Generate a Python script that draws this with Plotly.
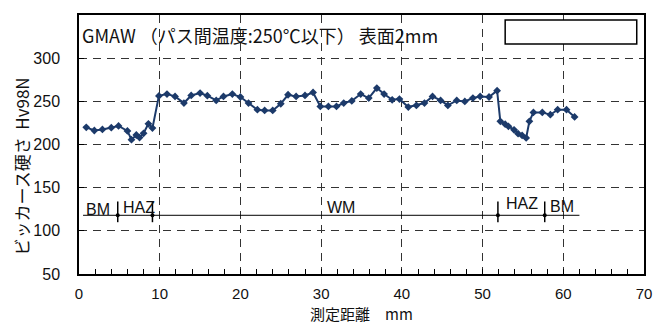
import plotly.graph_objects as go

# Measurement positions (mm) and Vickers hardness (Hv98N)
distance_mm = [0.9, 1.9, 2.9, 4.0, 4.9, 6.0, 6.5, 7.1, 7.5, 8.0, 8.6, 9.1,
               9.9, 10.9, 11.9, 13.0, 13.9, 15.0, 15.9, 17.0, 17.9, 19.0,
               20.0, 21.0, 22.1, 23.0, 24.0, 25.0, 25.9, 26.9, 28.0, 29.0,
               29.9, 30.9, 31.9, 32.8, 33.8, 34.9, 35.9, 36.9, 37.8, 38.8,
               39.7, 40.8, 41.8, 42.8, 43.8, 44.8, 45.7, 46.8, 47.8, 48.8,
               49.7, 50.8, 51.8,
               52.2, 52.8, 53.2, 53.9, 54.4, 54.9, 55.4, 55.8,
               56.3, 57.4, 58.4, 59.3, 60.4, 61.4]
hardness = [219.9, 216.2, 217.5, 219.5, 221.5, 215.7, 205.6, 211, 208, 213, 224, 219,
            256.3, 258.4, 255.7, 248, 256.8, 259.6, 256.5, 251, 255.7, 258.4,
            255, 248, 240.3, 239.5, 239.5, 247.2, 257.6, 255.7, 256.8, 260.3,
            244.1, 244.1, 244.1, 248, 250.5, 258.4, 253.8, 265.4, 258.4, 251.8,
            252.6, 243.4, 245.3, 248, 255.7, 251, 245.3, 251, 249.9, 253.8,
            255.7, 255, 262.4,
            226.8, 223.5, 221, 217, 212.5, 210.5, 207.6, 226.8,
            237.2, 237.2, 234.5, 240.3, 240.3, 231.9]

# Zone annotation (BM / HAZ / WM)
zone_line_x = [0.5, 62.0]
zone_line_y = 118
zone_bounds = [4.8, 9.1, 51.9, 57.7]
zone_tick_y = [110, 134]
zone_labels = ["BM", "HAZ", "WM", "HAZ", "BM"]
zone_label_x = [0.6, 5.2, 30.5, 52.6, 58.1]
zone_label_y = [125, 127, 127, 132, 128]

title_text = "GMAW （パス間温度:250℃以下） 表面2mm"
x_title = "測定距離　mm"
y_title = "ビッカース硬さ  Hv98N"

navy = "#1c3a6a"
jp_font = "Noto Sans CJK JP"
num_font = "Liberation Sans"

fig = go.Figure()

fig.add_trace(go.Scatter(
    x=distance_mm, y=hardness, mode="lines+markers",
    line=dict(color=navy, width=2),
    marker=dict(symbol="diamond", size=6, color=navy),
    showlegend=False, hoverinfo="skip"))

# zone horizontal line
fig.add_trace(go.Scatter(
    x=zone_line_x, y=[zone_line_y, zone_line_y], mode="lines",
    line=dict(color="black", width=1), showlegend=False, hoverinfo="skip"))
# zone boundary ticks
for b in zone_bounds:
    fig.add_trace(go.Scatter(
        x=[b, b], y=zone_tick_y, mode="lines",
        line=dict(color="black", width=1.5), showlegend=False, hoverinfo="skip"))
fig.add_trace(go.Scatter(
    x=zone_bounds, y=[zone_line_y] * len(zone_bounds), mode="markers",
    marker=dict(color="black", size=4), showlegend=False, hoverinfo="skip"))

for lab, lx, ly in zip(zone_labels, zone_label_x, zone_label_y):
    fig.add_annotation(x=lx, y=ly, text=lab, showarrow=False,
                       xanchor="left", yanchor="middle",
                       font=dict(family=num_font, size=16, color="#111"))

fig.add_annotation(x=0, y=1, xref="paper", yref="paper", text=title_text,
                   showarrow=False, xanchor="left", yanchor="top",
                   xshift=1, yshift=-5,
                   font=dict(family=jp_font, size=18, color="#111"))

# axis titles
fig.add_annotation(x=0.5, y=0, xref="paper", yref="paper", text=x_title,
                   showarrow=False, xanchor="center", yanchor="middle",
                   yshift=-39.5, xshift=0, borderpad=0,
                   font=dict(family=jp_font, size=15, color="#111"))
fig.add_annotation(x=0, y=0.5, xref="paper", yref="paper", text=y_title,
                   showarrow=False, xanchor="center", yanchor="middle",
                   textangle=-90, xshift=-58, yshift=-22,
                   font=dict(family=jp_font, size=17, color="#111"))

# empty legend box
fig.add_shape(type="rect", x0=52.8, x1=69.1, y0=316.5, y1=344.2,
              xref="x", yref="y", line=dict(color="black", width=1.5),
              fillcolor="white")

fig.update_layout(
    width=666, height=324,
    margin=dict(l=70.6, r=30.4, t=7, b=57.5, autoexpand=False),
    paper_bgcolor="white", plot_bgcolor="white",
    font=dict(family=num_font, size=15, color="#111"),
)
fig.update_xaxes(
    range=[0, 70], dtick=10, tick0=0, automargin=False,
    showline=True, mirror=True, linecolor="black", linewidth=1.5,
    showgrid=True, gridcolor="#333", griddash="8px,6px", gridwidth=1,
    zeroline=False,
    ticks="inside", ticklen=5, tickcolor="black",
    minor=dict(dtick=2, tick0=0, ticks="inside", ticklen=5, tickcolor="black", showgrid=False),
    ticklabelstandoff=5,
    tickfont=dict(family=num_font, size=15, color="#111"),
)
fig.update_yaxes(
    range=[50, 350], dtick=50, tick0=50, automargin=False,
    showline=True, mirror=True, linecolor="black", linewidth=1.5,
    showgrid=True, gridcolor="#333", griddash="8px,6px", gridwidth=1,
    zeroline=False,
    ticks="inside", ticklen=5, tickcolor="black",
    ticklabelstandoff=14,
    tickfont=dict(family=num_font, size=16, color="#111"),
)

fig.write_html("out.html")
